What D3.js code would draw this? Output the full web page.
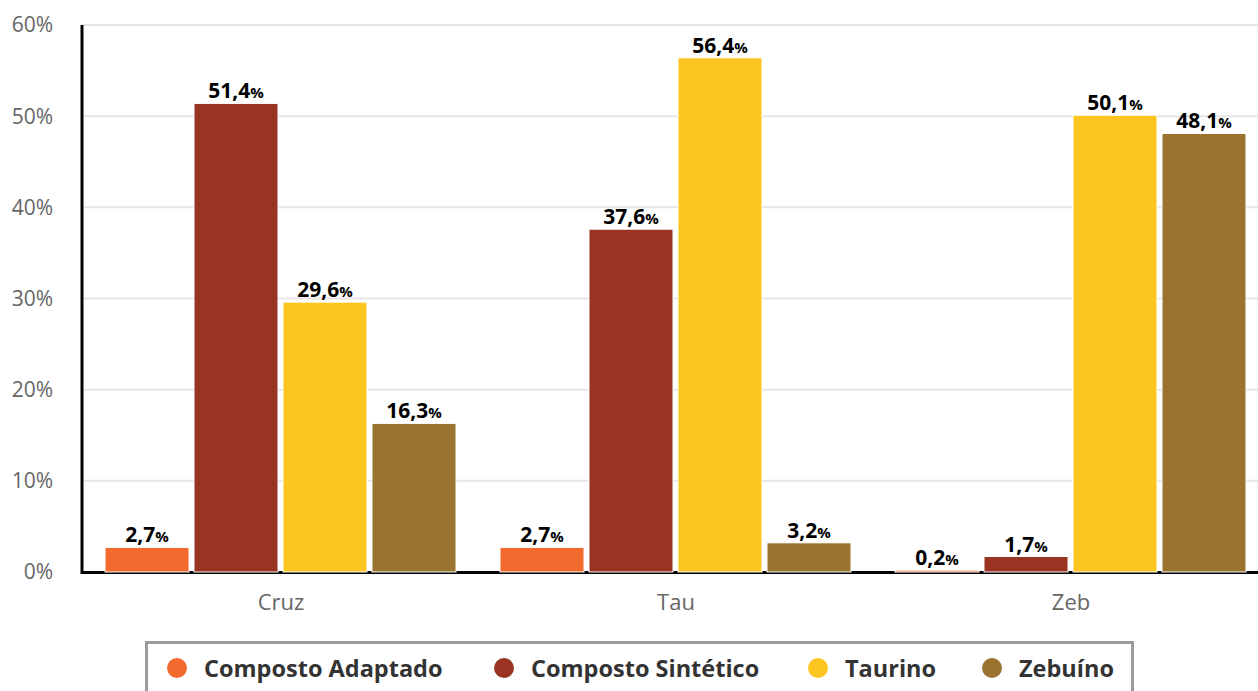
<!DOCTYPE html>
<html>
<head>
<meta charset="utf-8">
<script src="https://cdn.jsdelivr.net/npm/d3@7"></script>
<style>
  body { margin: 0; background: #fff; }
  text { font-family: "Open Sans", sans-serif; }
</style>
</head>
<body>
<div id="chart"></div>
<script>
var groups = ["Cruz", "Tau", "Zeb"];
var series = ["Composto Adaptado", "Composto Sintético", "Taurino", "Zebuíno"];
var colors = ["#F26A2D", "#993322", "#FDC51F", "#9A742E"];
var adaptado = [2.7, 2.7, 0.2];
var sintetico = [51.4, 37.6, 1.7];
var taurino = [29.6, 56.4, 50.1];
var zebuino = [16.3, 3.2, 48.1];
var yTicks = [0, 10, 20, 30, 40, 50, 60];

var values = [adaptado, sintetico, taurino, zebuino];
var width = 1258, height = 691;
var margin = { top: 25, left: 82, bottom: 119 };
var plotBottom = height - margin.bottom;

var svg = d3.select("#chart").append("svg")
  .attr("width", width)
  .attr("height", height);

var y = d3.scaleLinear().domain([0, 60]).range([plotBottom, margin.top]);
var x0 = d3.scaleBand().domain(groups).range([margin.left, margin.left + 395 * 3]);
var x1 = d3.scaleBand().domain(series).range([23, 374]).paddingInner(0.056);

// grid
svg.append("g").selectAll("line")
  .data(yTicks.filter(function(d) { return d > 0; }))
  .enter().append("line")
  .attr("x1", margin.left).attr("x2", width)
  .attr("y1", function(d) { return y(d); })
  .attr("y2", function(d) { return y(d); })
  .attr("stroke", "#e6e6e6")
  .attr("stroke-width", 2);

// y labels
svg.append("g").selectAll("text")
  .data(yTicks)
  .enter().append("text")
  .attr("x", 53)
  .attr("y", function(d) { return y(d); })
  .attr("dy", "0.35em")
  .attr("text-anchor", "end")
  .attr("fill", "#666")
  .style("font-size", "21px")
  .text(function(d) { return d + "%"; });

// axis lines
svg.append("line")
  .attr("x1", margin.left).attr("x2", width)
  .attr("y1", plotBottom + 0.5).attr("y2", plotBottom + 0.5)
  .attr("stroke", "#000").attr("stroke-width", 3);
svg.append("line")
  .attr("x1", margin.left).attr("x2", margin.left)
  .attr("y1", margin.top).attr("y2", plotBottom + 2)
  .attr("stroke", "#000").attr("stroke-width", 3);

// bars
var flat = [];
groups.forEach(function(g, gi) {
  series.forEach(function(s, si) {
    flat.push({ group: g, series: s, color: colors[si], value: values[si][gi] });
  });
});

svg.append("g").selectAll("rect")
  .data(flat)
  .enter().append("rect")
  .attr("x", function(d) { return x0(d.group) + x1(d.series); })
  .attr("width", x1.bandwidth())
  .attr("y", function(d) { return y(d.value); })
  .attr("height", function(d) { return plotBottom - y(d.value); })
  .attr("fill", function(d) { return d.color; })
  .attr("stroke", "#fff")
  .attr("stroke-width", 1);

var lbl = svg.append("g").selectAll("text")
  .data(flat)
  .enter().append("text")
  .attr("x", function(d) { return x0(d.group) + x1(d.series) + x1.bandwidth() / 2; })
  .attr("y", function(d) { return y(d.value) - 5; })
  .attr("text-anchor", "middle")
  .attr("fill", "#000")
  .style("font-weight", "bold")
  .style("font-size", "21px");
lbl.append("tspan").text(function(d) { return d3.format(".1f")(d.value).replace(".", ","); });
lbl.append("tspan").style("font-size", "15px").text("%");

// x labels
svg.append("g").selectAll("text")
  .data(groups)
  .enter().append("text")
  .attr("x", function(d) { return x0(d) + 199; })
  .attr("y", 610)
  .attr("text-anchor", "middle")
  .attr("fill", "#666")
  .style("font-size", "22px")
  .text(function(d) { return d; });

// legend
svg.append("rect")
  .attr("x", 146.5).attr("y", 642.5)
  .attr("width", 986).attr("height", 60)
  .attr("fill", "none")
  .attr("stroke", "#9c9c9c")
  .attr("stroke-width", 3);

var legX = [177, 504, 818, 992];
var leg = svg.append("g").selectAll("g")
  .data(series)
  .enter().append("g")
  .attr("transform", function(d, i) { return "translate(" + legX[i] + ",668)"; });
leg.append("circle")
  .attr("r", 10)
  .attr("fill", function(d, i) { return colors[i]; });
leg.append("text")
  .attr("x", 27)
  .attr("y", 9)
  .attr("fill", "#333")
  .style("font-weight", "bold")
  .style("font-size", "23.5px")
  .text(function(d) { return d; });
</script>
</body>
</html>
